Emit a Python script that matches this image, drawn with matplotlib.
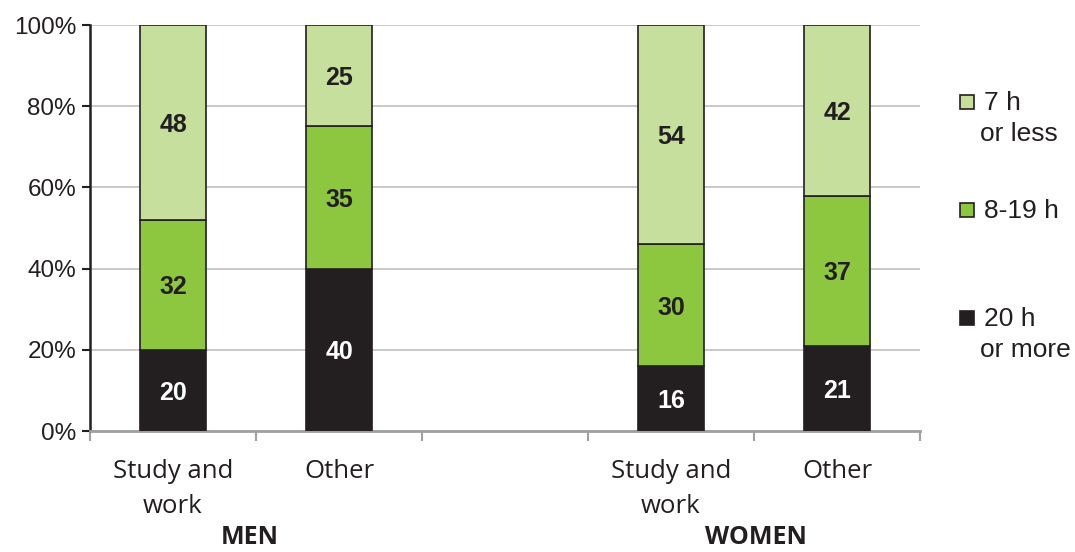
import matplotlib
matplotlib.use("Agg")
import matplotlib.pyplot as plt
from matplotlib.patches import Rectangle

categories = ["Study and\nwork", "Other", "", "Study and\nwork", "Other"]
groups = ["MEN", "WOMEN"]
series_names = ["20 h\nor more", "8-19 h", "7 h\nor less"]
more20 = [20, 40, None, 16, 21]
h8_19 = [32, 35, None, 30, 37]
less7 = [48, 25, None, 54, 42]
colors = ["#231f20", "#8dc63f", "#c6df9c"]
label_colors = ["white", "#231f20", "#231f20"]

fig = plt.figure(figsize=(10.75, 5.52), dpi=100)
ax = fig.add_axes([90/1075, 121/552, 830/1075, 406/552])

xs = [i for i, v in enumerate(more20) if v is not None]
bottoms = [0.0]*len(xs)
for vals, c, lc in zip([more20, h8_19, less7], colors, label_colors):
    v = [vals[i] for i in xs]
    ax.bar(xs, v, bottom=bottoms, width=0.4, color=c, edgecolor="#231f20", linewidth=1.2, zorder=3)
    for x, b, val in zip(xs, bottoms, v):
        ax.text(x, b + val/2, f"{val}", ha="center", va="center_baseline", color=lc,
                fontsize=18, fontweight="bold", family="Liberation Sans", zorder=4)
    bottoms = [b + val for b, val in zip(bottoms, v)]

ax.set_xlim(-0.5, 4.5)
ax.set_ylim(0, 100)
ax.set_yticks([0, 20, 40, 60, 80, 100])
ax.set_yticklabels([f"{t}%" for t in [0, 20, 40, 60, 80, 100]], family="Liberation Sans", fontsize=17.5, color="#231f20")
ax.yaxis.grid(True, color="#c0c0c0", linewidth=1.2, zorder=0)
ax.set_axisbelow(True)
ax.tick_params(axis="y", length=6, width=1.5, color="#231f20", pad=4)

ax.set_xticks(range(5))
ax.set_xticklabels(categories, family="Open Sans", fontsize=18.5, color="#231f20", linespacing=1.55)
ax.tick_params(axis="x", length=0, pad=20)
ax.set_xticks([i - 0.5 for i in range(6)], minor=True)
ax.tick_params(axis="x", which="minor", length=7, width=1.5, color="#a0a0a0")

for s in ["top", "right"]:
    ax.spines[s].set_visible(False)
ax.spines["left"].set_color("#231f20")
ax.spines["left"].set_linewidth(1.8)
ax.spines["bottom"].set_color("#a0a0a0")
ax.spines["bottom"].set_linewidth(2)

for g, xc in zip(groups, [250/1075, 756/1075]):
    fig.text(xc, 14/552, g, ha="center", va="center", family="Open Sans", fontweight="bold",
             fontsize=18, color="#231f20")

# legend
leg_y = [102, 210, 318]
for name, c, y in zip(series_names[::-1], colors[::-1], leg_y):
    fig.add_artist(Rectangle((960/1075, (552 - y - 7)/552), 14/1075, 14/552,
                             facecolor=c, edgecolor="#231f20", linewidth=1.2, transform=fig.transFigure))
    lines = name.split("\n")
    fig.text(984/1075, (552 - y - 1)/552, lines[0], ha="left", va="center", family="Liberation Sans",
             fontsize=19, color="#231f20")
    if len(lines) > 1:
        fig.text(980/1075, (552 - y - 32)/552, lines[1], ha="left", va="center", family="Liberation Sans",
                 fontsize=19, color="#231f20")

fig.savefig("out.png", dpi=100)
